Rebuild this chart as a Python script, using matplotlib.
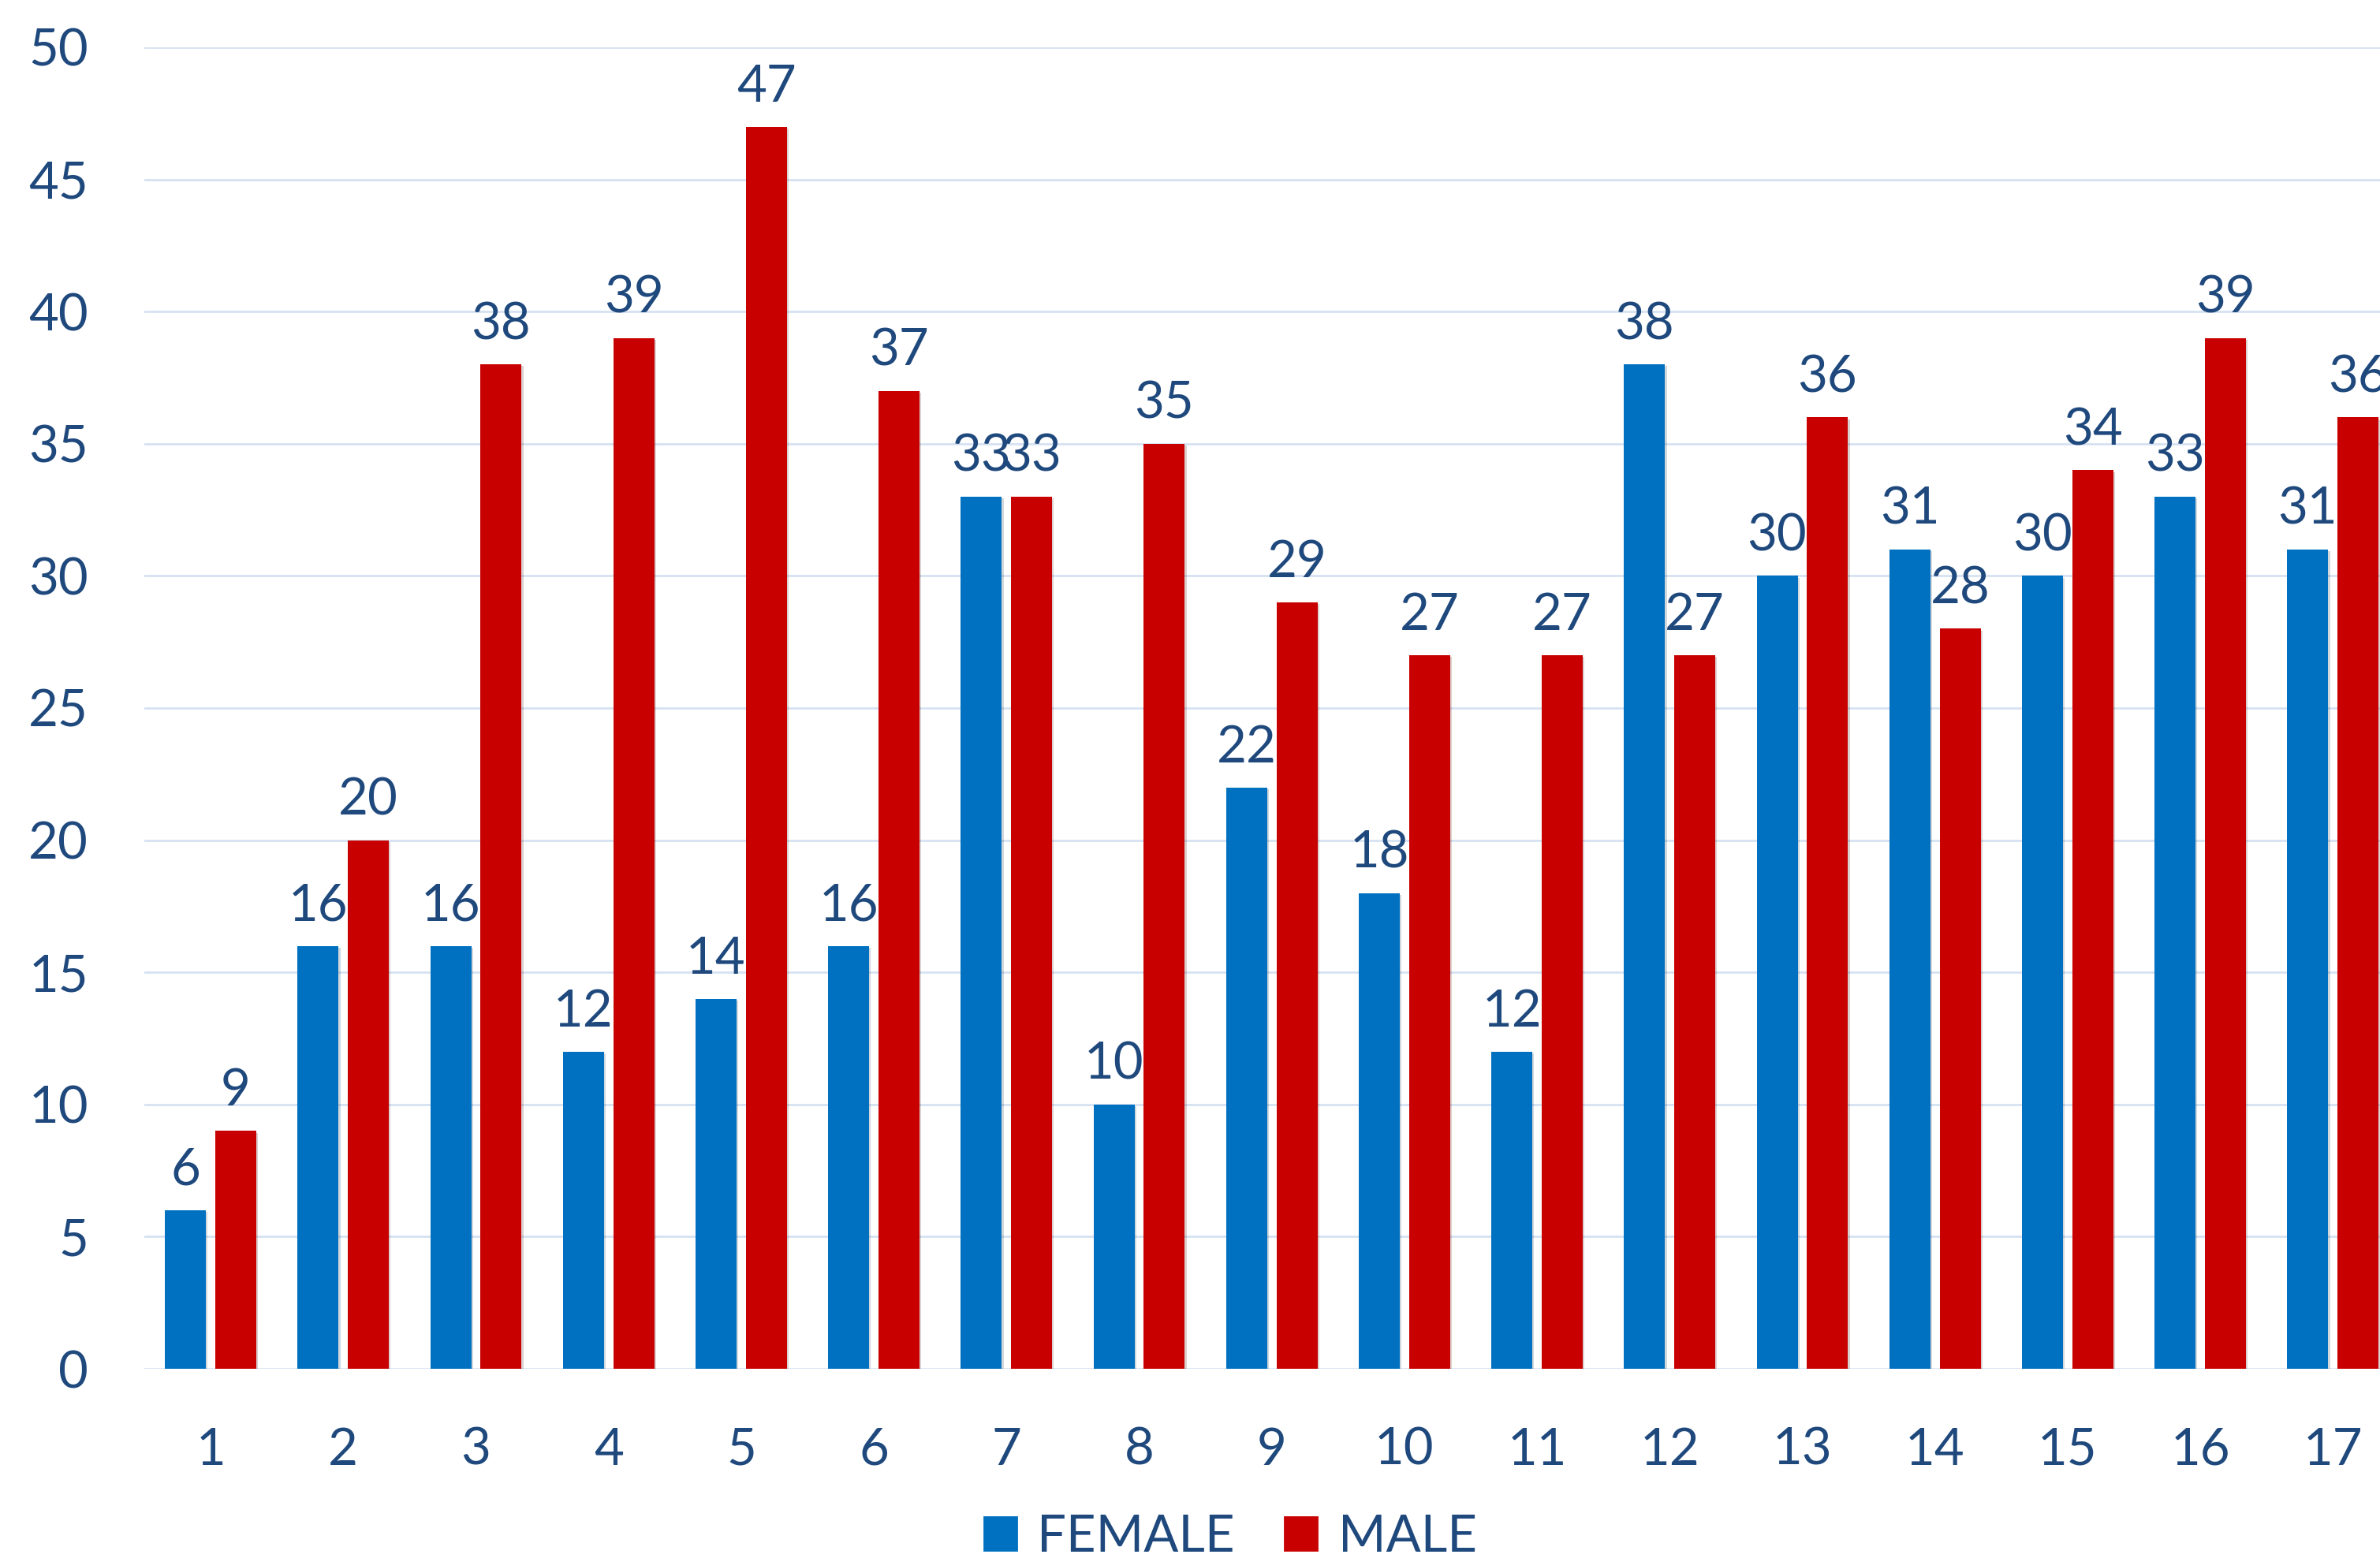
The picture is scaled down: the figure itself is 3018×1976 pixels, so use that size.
import matplotlib

matplotlib.use("Agg")
import matplotlib.pyplot as plt
import matplotlib.patheffects as pe
import numpy as np
from matplotlib.patches import Patch

categories = [str(i) for i in range(1, 18)]
female = [6, 16, 16, 12, 14, 16, 33, 10, 22, 18, 12, 38, 30, 31, 30, 33, 31]
male = [9, 20, 38, 39, 47, 37, 33, 35, 29, 27, 27, 27, 36, 28, 34, 39, 36]
series_names = ["FEMALE", "MALE"]
y_ticks = [0, 5, 10, 15, 20, 25, 30, 35, 40, 45, 50]

BLUE = "#0070C0"
RED = "#C80000"
TEXT = "#1F497D"
GRID = "#D6E2F2"
FONT = "Lato"
FS = 23.5

plt.rcParams["font.family"] = [FONT, "DejaVu Sans"]

fig = plt.figure(figsize=(15.09, 9.88), dpi=200)
ax = fig.add_axes([183 / 3018, 240 / 1976, 1 - 183 / 3018, 1676 / 1976])

x = np.arange(1, len(categories) + 1)
width = 0.309
offset = 0.19
shadow = [pe.SimplePatchShadow(offset=(0.8, -0.8), alpha=0.18), pe.Normal()]

bars_f = ax.bar(x - offset, female, width, color=BLUE, zorder=3, path_effects=shadow)
bars_m = ax.bar(x + offset, male, width, color=RED, zorder=3, path_effects=shadow)

# value labels above each bar
for bars in (bars_f, bars_m):
    for b in bars:
        ax.annotate(
            f"{int(b.get_height())}",
            (b.get_x() + b.get_width() / 2, b.get_height()),
            xytext=(0, 11.5),
            textcoords="offset points",
            ha="center",
            va="baseline",
            fontsize=FS,
            color=TEXT,
            annotation_clip=False,
            zorder=4,
        )

ax.set_xlim(0.5, 0.5 + (3018 - 183) / 168.2)
ax.set_ylim(0, 50)
ax.set_xticks(x)
ax.set_xticklabels(categories)
ax.set_yticks(y_ticks)
ax.yaxis.grid(True, color=GRID, linewidth=1.0, zorder=0)
ax.set_axisbelow(True)
for s in ax.spines.values():
    s.set_visible(False)
ax.tick_params(axis="both", length=0, labelsize=FS, labelcolor=TEXT)
ax.tick_params(axis="y", pad=25.5)
ax.tick_params(axis="x", pad=26.5)

handles = [Patch(color=BLUE), Patch(color=RED)]
fig.legend(
    handles,
    series_names,
    loc="center",
    bbox_to_anchor=(0.517, 0.0135),
    ncol=2,
    frameon=False,
    fontsize=FS,
    labelcolor=TEXT,
    handlelength=0.63,
    handleheight=0.63,
    handletextpad=0.4,
    columnspacing=0.97,
    borderpad=0,
)

fig.savefig("out.png", dpi=200)
